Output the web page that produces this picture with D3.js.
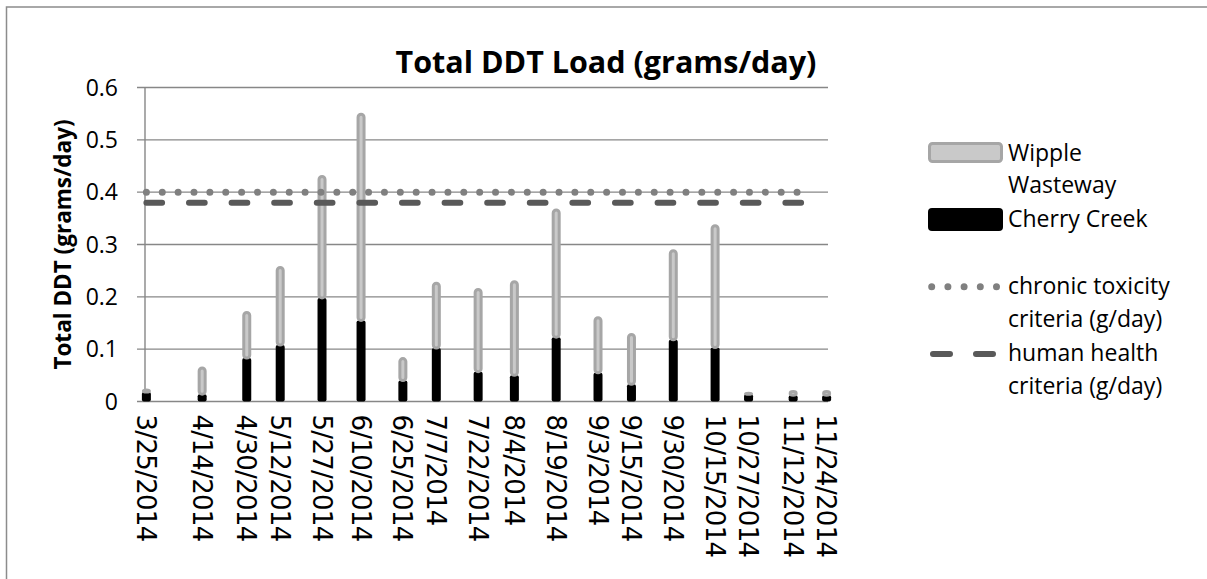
<!DOCTYPE html>
<html>
<head>
<meta charset="utf-8">
<script src="https://cdn.jsdelivr.net/npm/d3@7"></script>
<style>
  body { margin: 0; background: #fff; }
  svg { display: block; }
</style>
</head>
<body>
<svg id="chart" width="1207" height="579"></svg>
<script>
const sampleDates = ["2014-03-25", "2014-04-14", "2014-04-30", "2014-05-12", "2014-05-27", "2014-06-10",
  "2014-06-25", "2014-07-07", "2014-07-22", "2014-08-04", "2014-08-19", "2014-09-03",
  "2014-09-15", "2014-09-30", "2014-10-15", "2014-10-27", "2014-11-12", "2014-11-24"]
const cherryCreek = [0.018, 0.014, 0.083, 0.108, 0.198, 0.155, 0.040, 0.102, 0.057,
  0.050, 0.123, 0.055, 0.033, 0.118, 0.103, 0.014, 0.012, 0.012]
const wippleWasteway = [0.004, 0.050, 0.087, 0.148, 0.232, 0.394, 0.042, 0.124, 0.157,
  0.179, 0.243, 0.105, 0.095, 0.170, 0.233, 0.002, 0.007, 0.007]
const yTicks = [0, 0.1, 0.2, 0.3, 0.4, 0.5, 0.6]
const criteriaSpan = ["2014-03-25", "2014-11-19"]
const chronicToxicity = 0.4
const humanHealth = 0.38

const config = {
  margin: { top: 87.5, left: 145 },
  plotWidth: 683,
  plotHeight: 314,
  barWidth: 9,
  font: "'Open Sans', sans-serif",
  gridColor: "#878787"
}

const parse = d3.timeParse("%Y-%m-%d")
const fmt = d3.timeFormat("%-m/%-d/%Y")
const rows = sampleDates.map((d, i) => ({ date: parse(d), cherry: cherryCreek[i], wipple: wippleWasteway[i] }))

const svg = d3.select("#chart")

// outer chart border (runs off the right and bottom edges)
svg.append("rect")
  .attr("x", 6.5).attr("y", 7)
  .attr("width", 1400).attr("height", 800)
  .attr("fill", "none")
  .attr("stroke", "#8c8c8c")
  .attr("stroke-width", 1.5)

const g = svg.append("g")
  .attr("transform", `translate(${config.margin.left},${config.margin.top})`)

const first = d3.timeHour.offset(rows[0].date, -12)
const last = d3.timeHour.offset(rows[rows.length - 1].date, 12)
const xScale = d3.scaleTime().domain([first, last]).range([0, config.plotWidth])
const yScale = d3.scaleLinear().domain([0, 0.6]).range([config.plotHeight, 0])

// gridlines
g.selectAll(".grid")
  .data(yTicks)
  .enter().append("line")
  .attr("class", "grid")
  .attr("x1", -8).attr("x2", config.plotWidth)
  .attr("y1", d => yScale(d)).attr("y2", d => yScale(d))
  .attr("stroke", config.gridColor)
  .attr("stroke-width", 1.4)

g.append("line")
  .attr("x1", 0).attr("x2", 0)
  .attr("y1", 0).attr("y2", config.plotHeight)
  .attr("stroke", config.gridColor)
  .attr("stroke-width", 1.4)

g.selectAll(".ylab")
  .data(yTicks)
  .enter().append("text")
  .attr("class", "ylab")
  .attr("x", -27)
  .attr("y", d => yScale(d))
  .attr("dy", "0.36em")
  .attr("text-anchor", "end")
  .style("font-family", config.font)
  .style("font-size", "23px")
  .attr("fill", "#000")
  .text(d => d === 0 ? "0" : d3.format(".1f")(d))

// stacked bars
const stack = d3.stack().keys(["cherry", "wipple"])
const series = stack(rows)
const bw = config.barWidth

g.selectAll(".cherry")
  .data(series[0])
  .enter().append("rect")
  .attr("class", "cherry")
  .attr("x", d => xScale(d.data.date) - bw / 2)
  .attr("width", bw)
  .attr("y", d => yScale(d[1]))
  .attr("height", d => yScale(d[0]) - yScale(d[1]))
  .attr("rx", 2)
  .attr("fill", "#000")

g.selectAll(".wipple")
  .data(series[1])
  .enter().append("rect")
  .attr("class", "wipple")
  .attr("x", d => xScale(d.data.date) - bw / 2 + 1.5)
  .attr("width", bw - 3)
  .attr("y", d => yScale(d[1]))
  .attr("height", d => Math.max(yScale(d[0]) - yScale(d[1]), 1))
  .attr("rx", 3)
  .attr("fill", "#c9c9c9")
  .attr("stroke", "#a6a6a6")
  .attr("stroke-width", 3)

// criteria lines
const crit = criteriaSpan.map(parse)
g.append("line")
  .attr("x1", xScale(crit[0])).attr("x2", xScale(crit[1]))
  .attr("y1", yScale(chronicToxicity)).attr("y2", yScale(chronicToxicity))
  .attr("stroke", "#808080")
  .attr("stroke-width", 7)
  .attr("stroke-linecap", "round")
  .attr("stroke-dasharray", "0 15.87")

g.append("line")
  .attr("x1", xScale(crit[0])).attr("x2", xScale(crit[1]))
  .attr("y1", yScale(humanHealth)).attr("y2", yScale(humanHealth))
  .attr("stroke", "#595959")
  .attr("stroke-width", 6)
  .attr("stroke-linecap", "round")
  .attr("stroke-dasharray", "15.7 26.9")

// x labels, rotated
g.selectAll(".xlab")
  .data(rows)
  .enter().append("text")
  .attr("class", "xlab")
  .attr("transform", d => `translate(${xScale(d.date)},${config.plotHeight + 13}) rotate(90)`)
  .attr("dy", "0.36em")
  .style("font-family", "'DejaVu Sans', sans-serif")
  .style("font-size", "26px")
  .style("letter-spacing", "-0.7px")
  .attr("fill", "#000")
  .text(d => fmt(d.date))

// titles
svg.append("text")
  .attr("x", 606).attr("y", 73)
  .attr("text-anchor", "middle")
  .style("font-family", config.font)
  .style("font-size", "30.5px")
  .style("font-weight", "bold")
  .text("Total DDT Load (grams/day)")

svg.append("text")
  .attr("transform", `translate(63,${config.margin.top + config.plotHeight / 2}) rotate(-90)`)
  .attr("text-anchor", "middle")
  .attr("dy", "0.36em")
  .style("font-family", config.font)
  .style("font-size", "22.5px")
  .style("font-weight", "bold")
  .text("Total DDT (grams/day)")

// legend
const legend = svg.append("g")
legend.append("rect")
  .attr("x", 929.5).attr("y", 143.5).attr("width", 72).attr("height", 18)
  .attr("rx", 3)
  .attr("fill", "#c9c9c9").attr("stroke", "#a6a6a6").attr("stroke-width", 3)
legend.append("rect")
  .attr("x", 928).attr("y", 208).attr("width", 75).attr("height", 23)
  .attr("rx", 4)
  .attr("fill", "#000")
legend.append("line")
  .attr("x1", 931.7).attr("x2", 998).attr("y1", 286.7).attr("y2", 286.7)
  .attr("stroke", "#808080").attr("stroke-width", 7)
  .attr("stroke-linecap", "round").attr("stroke-dasharray", "0 16.2")
legend.append("line")
  .attr("x1", 933).attr("x2", 994).attr("y1", 354).attr("y2", 354)
  .attr("stroke", "#595959").attr("stroke-width", 6)
  .attr("stroke-linecap", "round").attr("stroke-dasharray", "17 26")

const legendLines = [
  ["Wipple", 153], ["Wasteway", 185], ["Cherry Creek", 219],
  ["chronic toxicity", 286], ["criteria (g/day)", 319],
  ["human health", 353], ["criteria (g/day)", 386]
]
legend.selectAll(".ltext")
  .data(legendLines)
  .enter().append("text")
  .attr("class", "ltext")
  .attr("x", 1008)
  .attr("y", d => d[1])
  .attr("dy", "0.36em")
  .style("font-family", config.font)
  .style("font-size", "23px")
  .attr("fill", "#000")
  .text(d => d[0])
</script>
</body>
</html>
